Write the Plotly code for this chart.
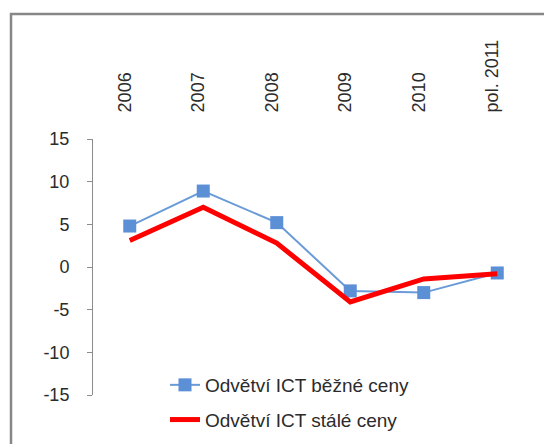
import plotly.graph_objects as go

categories = ["2006", "2007", "2008", "2009", "2010", "pol. 2011"]
bezne_ceny = [4.8, 8.9, 5.2, -2.8, -3.0, -0.7]
stale_ceny = [3.1, 7.0, 2.8, -4.1, -1.4, -0.8]
y_ticks = [15, 10, 5, 0, -5, -10, -15]
series_names = ["Odvětví ICT běžné ceny", "Odvětví ICT stálé ceny"]

n = len(categories)
xs = list(range(n))

# page body has an 8px default margin; compensate so the window matches
OFF = 8
W, H = 552, 444
ml = 93 - OFF
mt = 139 - OFF
mr = W - (534 - OFF)
mb = H - (395 - OFF)
pw = W - ml - mr
ph = H - mt - mb

fig = go.Figure()
fig.add_trace(go.Scatter(
    x=xs, y=bezne_ceny, name=series_names[0], mode="lines+markers",
    line=dict(color="#6a9bd8", width=2),
    marker=dict(symbol="square", size=13, color="#5b8fd6"),
    legendgroup="a",
))
fig.add_trace(go.Scatter(
    x=xs, y=stale_ceny, name=series_names[1], mode="lines",
    line=dict(color="#ff0000", width=5),
    legendgroup="b",
))

font = "Liberation Sans, Arial, sans-serif"
txt = "#2b2b2b"

# helpers take window pixel positions
def px_to_paper_x(p):
    return (p - OFF - ml) / pw

def px_to_paper_y(p):
    return (H - mb - (p - OFF)) / ph

fig.update_layout(
    width=W, height=H,
    margin=dict(l=ml, r=mr, t=mt, b=mb, pad=0, autoexpand=False),
    paper_bgcolor="white", plot_bgcolor="white",
    font=dict(family=font, size=18, color=txt),
    showlegend=True,
    legend=dict(
        x=px_to_paper_x(165), y=px_to_paper_y(366), xanchor="left", yanchor="top",
        font=dict(size=19, color=txt), bgcolor="rgba(0,0,0,0)",
        traceorder="grouped", tracegroupgap=7,
    ),
    xaxis=dict(
        range=[-0.5, n - 0.5], side="top",
        tickvals=xs, ticktext=categories, tickangle=-90,
        ticks="outside", ticklen=22, tickcolor="rgba(0,0,0,0)",
        ticklabelshift=-5,
        showline=False, showgrid=False, zeroline=False,
        tickfont=dict(size=18, color=txt),
    ),
    xaxis2=dict(
        range=[-0.5, n - 0.5], overlaying="x", anchor="free", position=0.5,
        side="bottom", tickvals=[i + 0.5 for i in xs], showticklabels=False,
        ticks="outside", ticklen=6, tickcolor="#8c8c8c", tickwidth=1,
        showline=True, linecolor="#8c8c8c", linewidth=1,
        showgrid=False, zeroline=False,
    ),
    yaxis=dict(
        range=[-15, 15], tickvals=y_ticks, ticktext=[str(v) for v in y_ticks],
        ticks="outside", ticklen=5, tickcolor="#8c8c8c",
        showline=True, linecolor="#8c8c8c", linewidth=1,
        showgrid=False, zeroline=False,
        ticklabelstandoff=14,
        tickfont=dict(size=18, color=txt),
    ),
    shapes=[dict(
        type="rect", xref="paper", yref="paper",
        x0=px_to_paper_x(11), x1=px_to_paper_x(W + 30),
        y0=px_to_paper_y(H + 30), y1=px_to_paper_y(14),
        line=dict(color="#878787", width=2.5), fillcolor="rgba(0,0,0,0)",
        layer="below",
    )],
)

fig.write_html("out.html")
